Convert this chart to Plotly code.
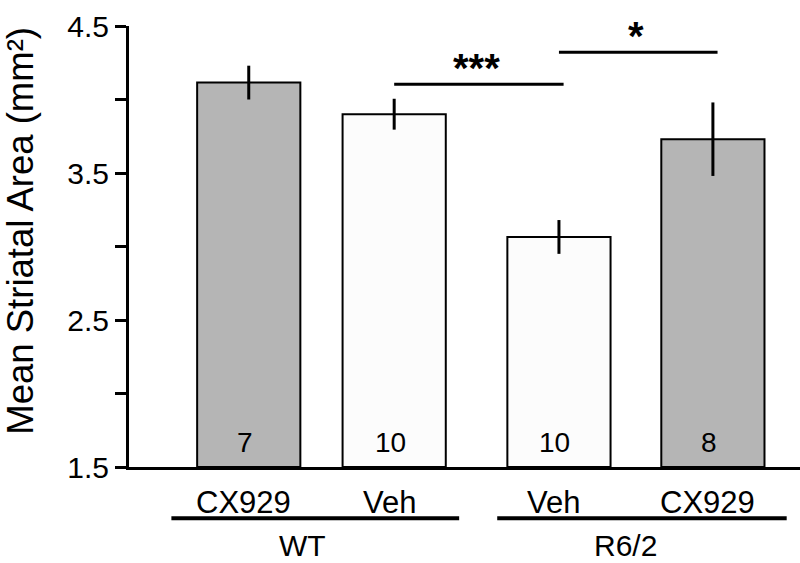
import plotly.graph_objects as go

# ---- data ----
categories = ["CX929", "Veh", "Veh", "CX929"]
groups = ["WT", "R6/2"]
means = [4.115, 3.90, 3.065, 3.73]
sems = [0.115, 0.105, 0.115, 0.25]
counts = ["7", "10", "10", "8"]
y_ticks = [1.5, 2.0, 2.5, 3.0, 3.5, 4.0, 4.5]
y_ticktext = ["1.5", "", "2.5", "", "3.5", "", "4.5"]
sig_labels = ["***", "*"]

# ---- layout constants ----
bar_x = [0, 0.94, 2.005, 3.0]
bar_fill = ["#b5b5b5", "#fcfcfc", "#fcfcfc", "#b5b5b5"]
FONT = "Liberation Sans, Arial, Helvetica, sans-serif"

fig = go.Figure()
fig.add_trace(go.Bar(
    x=bar_x, y=[m - 1.5 for m in means], base=1.5, width=0.667,
    marker=dict(color=bar_fill, line=dict(color="black", width=2)),
    error_y=dict(type="data", array=sems, visible=True, thickness=3, width=0, color="black"),
    showlegend=False,
))

ann = []
# counts inside bars
for x, c in zip(bar_x, counts):
    ann.append(dict(x=x, y=1.665, xref="x", yref="y", text=c, showarrow=False,
                    xshift=-4, font=dict(size=28, color="black", family=FONT)))
# category labels
for x, c in zip(bar_x, categories):
    ann.append(dict(x=x, y=-0.080, xref="x", yref="paper", text=c, showarrow=False,
                    xshift=-5, yanchor="middle", font=dict(size=31, color="black", family=FONT)))
# group labels
grp_x = [(bar_x[0] + bar_x[1]) / 2 - 0.12, (bar_x[2] + bar_x[3]) / 2 - 0.07]
for x, g in zip(grp_x, groups):
    ann.append(dict(x=x, y=-0.177, xref="x", yref="paper", text=g, showarrow=False,
                    yanchor="middle", font=dict(size=30, color="black", family=FONT)))
# significance stars
sig_y = [4.104, 4.321]
pairs = [(1, 2), (2, 3)]
for (a, b), yv, s in zip(pairs, sig_y, sig_labels):
    ann.append(dict(x=(bar_x[a] + bar_x[b]) / 2, y=yv, xref="x", yref="y", text=s,
                    showarrow=False, yanchor="bottom", yshift=-8,
                    font=dict(size=40, color="black", family=FONT, weight="bold")))
# y axis title
ann.append(dict(x=-0.163, y=0.535, xref="paper", yref="paper",
                text="Mean Striatal Area (mm²)", textangle=-90, showarrow=False,
                xanchor="center", yanchor="middle",
                font=dict(size=36.5, color="black", family=FONT)))

shapes = []
for (a, b), yv in zip(pairs, sig_y):
    shapes.append(dict(type="line", xref="x", yref="y", x0=bar_x[a], x1=bar_x[b] + 0.03,
                       y0=yv, y1=yv, line=dict(color="black", width=3)))
grp_lines = [(-0.50, 1.36), (1.606, 3.477)]
for x0, x1 in grp_lines:
    shapes.append(dict(type="line", xref="x", yref="paper", x0=x0, x1=x1,
                       y0=-0.116, y1=-0.116, line=dict(color="black", width=4)))

fig.update_layout(
    template="none",
    width=800, height=563,
    margin=dict(l=129, r=0, t=26, b=96, autoexpand=False),
    paper_bgcolor="white", plot_bgcolor="white",
    font=dict(family=FONT, color="black"),
    annotations=ann, shapes=shapes,
    xaxis=dict(range=[-0.774, 3.563], showline=True, linecolor="black", linewidth=3,
               showticklabels=False, ticks="", showgrid=False, zeroline=False,
               automargin=False),
    yaxis=dict(range=[1.5, 4.5], showline=True, linecolor="black", linewidth=3,
               tickvals=y_ticks, ticktext=y_ticktext, ticks="outside", ticklen=11,
               tickwidth=3, tickcolor="black", showgrid=False, zeroline=False,
               automargin=False,
               tickfont=dict(size=30, color="black", family=FONT)),
)

fig.write_html(
    "out.html",
    config={"displayModeBar": False},
    post_script="document.body.style.margin='0';document.body.style.overflow='hidden';",
)
